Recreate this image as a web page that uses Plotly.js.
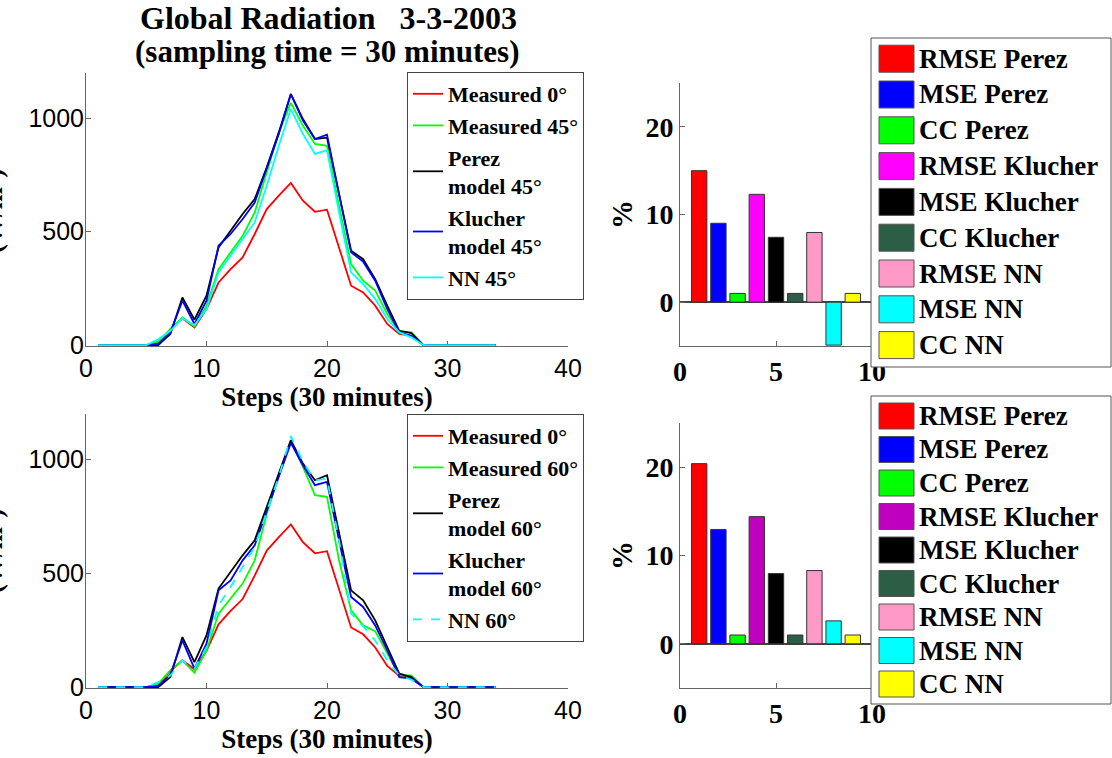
<!DOCTYPE html>
<html><head><meta charset="utf-8">
<script src="https://cdn.plot.ly/plotly-3.0.1.min.js"></script>
<style>html,body{margin:0;padding:0;background:#fff;} #chart{width:1112px;height:758px;}</style>
</head><body><div id="chart"></div>
<script>
// ---------- DATA ----------
const steps = [1,2,3,4,5,6,7,8,9,10,11,12,13,14,15,16,17,18,19,20,21,22,23,24,25,26,27,28,29,30,31,32,33,34];

const measured0   = [0,0,0,0,0,12,70,118,78,159,276,335,387,490,600,659,715,637,588,597,424,262,232,174,93,49,41,0,0,0,0,0,0,0];

const measured45  = [0,0,0,0,0,15,70,122,82,174,335,409,482,585,762,938,1068,968,887,879,615,357,284,240,137,62,56,0,0,0,0,0,0,0];
const perez45     = [0,0,0,0,0,0,49,210,112,218,431,504,578,644,784,938,1107,997,909,915,659,416,379,291,174,63,53,0,0,0,0,0,0,0];
const klucher45   = [0,0,0,0,0,5,55,196,93,196,438,490,556,629,779,931,1107,990,909,928,666,409,368,284,159,56,41,0,0,0,0,0,0,0];
const nn45        = [0,0,0,0,0,26,63,118,88,159,321,394,468,541,703,879,1041,931,843,860,585,321,269,203,115,56,34,0,0,0,0,0,0,0];

const measured60  = [0,0,0,0,0,15,73,117,63,161,323,389,455,557,762,931,1082,968,843,836,557,337,271,246,147,51,51,0,0,0,0,0,0,0];
const perez60     = [0,0,0,0,0,0,44,220,110,227,433,506,579,645,792,931,1085,982,909,931,674,425,381,293,176,59,44,0,0,0,0,0,0,0];
const klucher60   = [0,0,0,0,0,5,55,205,81,191,425,469,557,623,777,924,1073,975,887,902,645,396,352,271,161,44,37,0,0,0,0,0,0,0];
const nn60        = [0,0,0,0,0,22,51,117,81,176,359,440,528,616,770,924,1103,990,909,916,645,323,267,205,117,51,32,0,0,0,0,0,0,0];

const barIndex    = [1,2,3,4,5,6,7,8,9];
const barNames    = ['RMSE Perez','MSE Perez','CC Perez','RMSE Klucher','MSE Klucher','CC Klucher','RMSE NN','MSE NN','CC NN'];
const errors45    = [15.0, 9.0, 1.0, 12.3, 7.4, 1.0, 7.95, -4.9, 1.0];
const errors60    = [20.4, 12.95, 1.0, 14.4, 7.95, 1.0, 8.3, 2.6, 1.0];
const colors45    = ['#ff0000','#0000ff','#00ff00','#ff00ff','#000000','#2c5e46','#ff9ac8','#00ffff','#ffff00'];
const colors60    = ['#ff0000','#0000ff','#00ff00','#bf00bf','#000000','#2c5e46','#ff9ac8','#00ffff','#ffff00'];

const lineNames45 = ['Measured 0°','Measured 45°','Perez<br>model 45°','Klucher<br>model 45°','NN 45°'];
const lineNames60 = ['Measured 0°','Measured 60°','Perez<br>model 60°','Klucher<br>model 60°','NN 60°'];
const lineColors  = ['#ff0000','#00ff00','#000000','#0000ff','#00ffff'];

const titleLine1 = 'Global Radiation\u00a0\u00a0\u00a03-3-2003';
const titleLine2 = '(sampling time = 30 minutes)';
const xTitle = 'Steps (30 minutes)';
const yTitle = '(W/m<sup>2</sup>)';

// ---------- helpers ----------
const W = 1112, H = 758;
const PX = p => p / W;
const PY = p => 1 - p / H;
const SERIF = 'Liberation Serif, Times New Roman, serif';
const SANS = 'Liberation Sans, Arial, sans-serif';
const AX = '#666';

const traces = [];
const seriesTop = [measured0, measured45, perez45, klucher45, nn45];
const seriesBot = [measured0, measured60, perez60, klucher60, nn60];
seriesTop.forEach((ys, i) => traces.push({
  type:'scatter', mode:'lines', x: steps, y: ys, name: lineNames45[i],
  line:{color: lineColors[i], width: 1.8}, xaxis:'x', yaxis:'y', legend:'legend'
}));
seriesBot.forEach((ys, i) => traces.push({
  type:'scatter', mode:'lines', x: steps, y: ys, name: lineNames60[i],
  line:{color: lineColors[i], width: 1.8, dash: i === 4 ? 'dash' : 'solid'}, xaxis:'x2', yaxis:'y2', legend:'legend2'
}));
traces.push({type:'bar', x: barIndex, y: errors45, width:0.8, marker:{color: colors45, line:{color:'#333', width:1}}, xaxis:'x3', yaxis:'y3', showlegend:false});
traces.push({type:'bar', x: barIndex, y: errors60, width:0.8, marker:{color: colors60, line:{color:'#333', width:1}}, xaxis:'x4', yaxis:'y4', showlegend:false});

function lineX(domPx, anchor) {
  return {domain:[PX(domPx[0]), PX(domPx[1])], range:[0,40], tickvals:[0,10,20,30,40], ticks:'inside', ticklen:5,
    tickcolor:AX, showline:true, linecolor:AX, linewidth:1, showgrid:false, zeroline:false, anchor:anchor, layer:'below traces',
    tickfont:{family:SANS, size:25, color:'#000'},
    title:{text:xTitle, font:{family:SERIF, size:27, color:'#000', weight:'bold'}, standoff:1}};
}
function lineY(domPx, anchor) {
  return {domain:[PY(domPx[1]), PY(domPx[0])], range:[-4,1200], tickvals:[0,500,1000], ticks:'inside', ticklen:5,
    tickcolor:AX, showline:true, linecolor:AX, linewidth:1, showgrid:false, zeroline:false, anchor:anchor, layer:'below traces',
    ticklabelstandoff:-4, tickfont:{family:SANS, size:25, color:'#000'}};
}
function barX(domPx, anchor) {
  return {domain:[PX(domPx[0]), PX(domPx[1])], range:[0,10], tickvals:[0,5,10], ticks:'inside', ticklen:5,
    tickcolor:AX, showline:true, linecolor:AX, linewidth:1, showgrid:false, zeroline:false, anchor:anchor,
    tickfont:{family:SERIF, size:28, color:'#000', weight:'bold'}};
}
function barY(domPx, anchor) {
  return {domain:[PY(domPx[1]), PY(domPx[0])], range:[-5,25], tickvals:[0,10,20], ticks:'inside', ticklen:5,
    tickcolor:AX, showline:true, linecolor:AX, linewidth:1, showgrid:false, zeroline:true, zerolinecolor:'#444', zerolinewidth:1.5,
    anchor:anchor, tickfont:{family:SERIF, size:28, color:'#000', weight:'bold'},
    title:{text:'%', font:{family:SERIF, size:29, color:'#000', weight:'bold'}, standoff:4}};
}

const legendFont = {family:SERIF, size:22, color:'#000', weight:'bold'};
const layout = {
  width:W, height:H, autosize:false, margin:{l:0,r:0,t:0,b:0},
  paper_bgcolor:'#fff', plot_bgcolor:'rgba(0,0,0,0)', showlegend:true,
  xaxis: lineX([86,568],'y'), yaxis: lineY([73,346],'x'),
  xaxis2: lineX([86,568],'y2'), yaxis2: lineY([414,688],'x2'),
  xaxis3: barX([680,872],'y3'), yaxis3: barY([83,346],'x3'),
  xaxis4: barX([680,872],'y4'), yaxis4: barY([423,688],'x4'),
  legend: {x:PX(407), y:PY(72), xanchor:'left', yanchor:'top', bgcolor:'#fff', bordercolor:'#444', borderwidth:1,
    font:legendFont, itemwidth:30, tracegroupgap:0},
  legend2: {x:PX(407), y:PY(414), xanchor:'left', yanchor:'top', bgcolor:'#fff', bordercolor:'#444', borderwidth:1,
    font:legendFont, itemwidth:30, tracegroupgap:0},
  shapes: [], annotations: []
};

// titles
layout.annotations.push({xref:'paper', yref:'paper', x:PX(328), y:PY(18), xanchor:'center', yanchor:'middle', showarrow:false,
  text:titleLine1, font:{family:SERIF, size:32, color:'#000', weight:'bold'}});
layout.annotations.push({xref:'paper', yref:'paper', x:PX(327), y:PY(51), xanchor:'center', yanchor:'middle', showarrow:false,
  text:titleLine2, font:{family:SERIF, size:31, color:'#000', weight:'bold'}});

// y-axis labels, clipped by the left edge of the figure as in the original
[211, 551].forEach(cy => layout.annotations.push({xref:'paper', yref:'paper', x:PX(10), y:PY(cy), xanchor:'right', yanchor:'middle',
  showarrow:false, textangle:-90, text:yTitle, font:{family:SERIF, size:27, color:'#000', weight:'bold'}}));

// bar legends (large swatches)
function barLegend(names, colors, boxTop, boxBottom, firstCenter, step, swH) {
  layout.shapes.push({type:'rect', xref:'paper', yref:'paper', layer:'above', x0:PX(871), x1:PX(1111), y0:PY(boxBottom), y1:PY(boxTop),
    fillcolor:'#fff', line:{color:'#555', width:1}});
  names.forEach((n, i) => {
    const cy = firstCenter + i * step;
    layout.shapes.push({type:'rect', xref:'paper', yref:'paper', layer:'above', x0:PX(879), x1:PX(914), y0:PY(cy + swH/2), y1:PY(cy - swH/2),
      fillcolor:colors[i], line:{color:'#555', width:1}});
    layout.annotations.push({xref:'paper', yref:'paper', x:PX(917), y:PY(cy), xanchor:'left', yanchor:'middle', showarrow:false,
      text:n, font:{family:SERIF, size:27, color:'#000', weight:'bold'}});
  });
}
barLegend(barNames, colors45, 38, 367, 58.7, 35.8, 27);
barLegend(barNames, colors60, 396, 704, 416, 33.5, 26);

Plotly.newPlot('chart', traces, layout, {displayModeBar:false, staticPlot:true});
</script></body></html>
